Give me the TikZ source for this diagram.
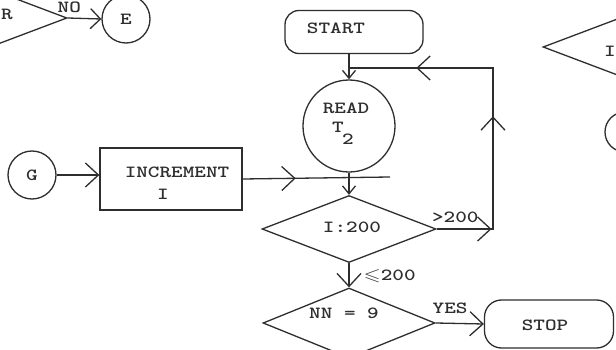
\documentclass[tikz,border=0pt]{standalone}
\usepackage{graphicx}
\usepackage{amssymb}
\usetikzlibrary{shapes.geometric,arrows.meta,decorations.markings}
\definecolor{inkc}{HTML}{2E2E2E}
\newcommand\tw[1]{\scalebox{1.3}[1]{\ttfamily\bfseries\fontsize{17}{20}\selectfont #1}}
\tikzset{
  chev/.tip={Straight Barb[length=13pt,width=24pt]},
  chevs/.tip={Straight Barb[length=8pt,width=13pt]},
}
\begin{document}
\begin{tikzpicture}[x=1pt,y=-1pt,
  ink/.style={draw=inkc, line width=1.3pt},
  conn/.style={ink},
  box/.style={ink, rectangle, inner sep=0pt},
  rbox/.style={ink, rectangle, inner sep=0pt},
  ring/.style={ink, circle, inner sep=0pt, text=inkc},
  dia/.style={ink, diamond, inner sep=0pt},
  tx/.style={inner sep=0pt, text=inkc},
  every label/.style={inner sep=0pt, text=inkc},
]
\useasboundingbox (0,0) rectangle (616,350);
\fill[white] (0,0) rectangle (616,350);

% nodes
\node[dia, minimum width=174pt, minimum height=66pt,
      label={[xshift=27pt,yshift=4pt]center:{\tw{R}}}] (dTL) at (-20,18) {};
\node[ring, minimum size=48pt] (E) at (126,19) {\tw{E}};
\node[dia, minimum width=174pt, minimum height=66pt,
      label={[xshift=-20pt,yshift=-4pt]center:{\tw{I}}}] (dTR) at (630,47) {};
\node[ring, minimum size=40pt] (cR) at (625,132) {};

\node[rbox, rounded corners=14pt, minimum width=138pt, minimum height=43pt,
      label={[xshift=-18pt,yshift=4pt]center:{\tw{START}}}] (start) at (354,32) {};
\node[ring, minimum size=92pt,
      label={[xshift=-3pt,yshift=18pt]center:{\tw{READ}}},
      label={[xshift=-11pt,yshift=-1pt]center:{\tw{T}}},
      label={[xshift=-1pt,yshift=-13pt]center:{\tw{2}}}] (read) at (349,126) {};
\node[ring, minimum size=48pt] (G) at (32,175) {\tw{G}};
\node[box, minimum width=142pt, minimum height=62pt,
      label={[xshift=6pt,yshift=7pt]center:{\tw{INCREMENT}}},
      label={[xshift=-8pt,yshift=-15pt]center:{\tw{I}}}] (inc) at (171,179) {};
\node[dia, minimum width=174pt, minimum height=67pt,
      label={[xshift=3pt,yshift=2pt]center:{\tw{I:200}}}] (cmp) at (349,229) {};
\node[dia, minimum width=172pt, minimum height=70pt,
      label={[xshift=-5pt,yshift=10pt]center:{\tw{NN = 9}}}] (nn) at (349,323) {};
\node[rbox, rounded corners=17pt, minimum width=129pt, minimum height=48pt,
      label={[xshift=-4pt,yshift=-1pt]center:{\tw{STOP}}}] (stop) at (549,324) {};

\coordinate (stubE) at (390,177);
\coordinate (fbX) at (493,68);

% connectors
\draw[conn, -{chev[length=10pt,width=20pt]}] (dTL.east) --
  node[tx, pos=0.05, yshift=10.5pt] {\tw{NO}} (E.west);
\draw[conn, -{chevs}] (start.south -| read.north) -- (read.north);
\draw[conn, -{chev}] (G.east) -- (G.east -| inc.west);
\draw[conn, postaction={decorate},
      decoration={markings, mark=at position 0.36 with {\arrow{chev}}}]
  (inc.east) -- (stubE);
\draw[conn, -{chevs}] (read.south) -- (cmp.north);
\draw[conn, -{chev}] (cmp.south) --
  node[tx, anchor=west, xshift=14pt, yshift=-1pt] {\tw{$\leqslant$200}} (nn.north);
\draw[conn, -{chev}] (nn.east) --
  node[tx, pos=0.3, yshift=15pt] {\tw{YES}} (stop.west);
\draw[conn, postaction={decorate},
      decoration={markings,
        mark=at position 0.152 with {\arrow{chev}},
        mark=at position 0.468 with {\arrow{chev}},
        mark=at position 0.814 with {\arrow{chev}}}]
  (cmp.east) -- node[tx, pos=0.33, yshift=12pt] {\tw{>200}}
  (cmp.east -| fbX) -- (fbX) -- (fbX -| read.north);
\end{tikzpicture}
\end{document}
